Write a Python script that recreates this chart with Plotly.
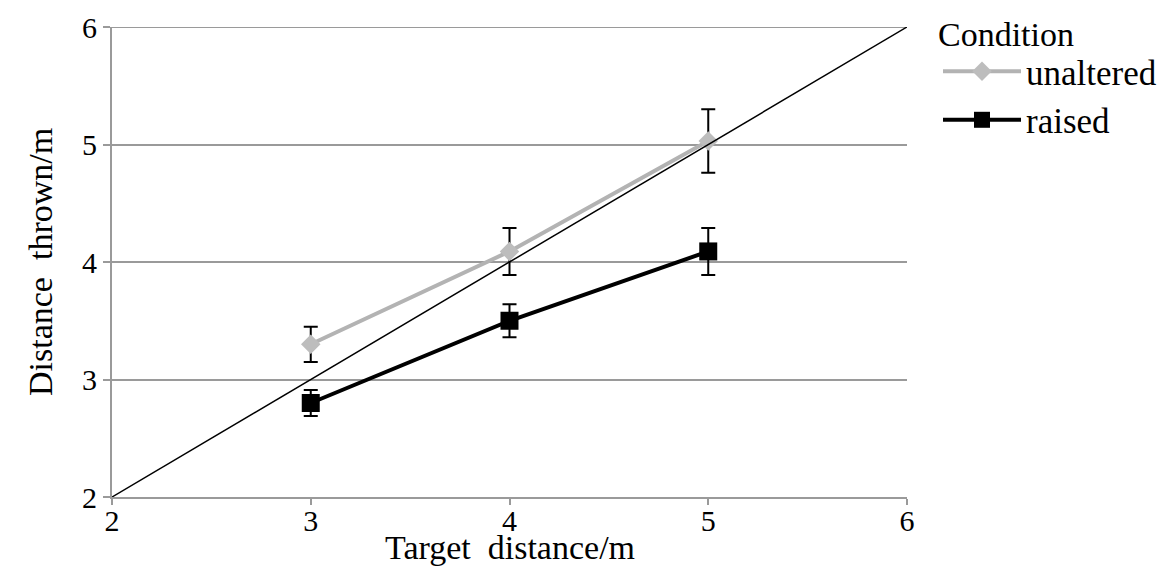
import plotly.graph_objects as go

# target distances (m)
targets = [3, 4, 5]

# mean distance thrown (m) and error bar half-widths
unaltered = [3.30, 4.09, 5.03]
unaltered_err = [0.15, 0.20, 0.27]
raised = [2.80, 3.50, 4.09]
raised_err = [0.11, 0.14, 0.20]

# y = x reference line end points
ref_line = [2, 6]
axis_ticks = [2, 3, 4, 5, 6]

serif = "Liberation Serif"
grey = "#9a9a9a"

fig = go.Figure()

fig.add_trace(go.Scatter(
    x=targets, y=unaltered, name="unaltered", mode="lines+markers",
    line=dict(color="#b3b3b3", width=4),
    marker=dict(symbol="diamond", size=15, color="#bdbdbd"),
    error_y=dict(type="data", array=unaltered_err, color="black", thickness=2, width=7),
))
fig.add_trace(go.Scatter(
    x=targets, y=raised, name="raised", mode="lines+markers",
    line=dict(color="black", width=4),
    marker=dict(symbol="square", size=18, color="black"),
    error_y=dict(type="data", array=raised_err, color="black", thickness=2, width=7),
))
fig.add_trace(go.Scatter(
    x=ref_line, y=ref_line, mode="lines", showlegend=False,
    line=dict(color="black", width=1.5), hoverinfo="skip",
))

# top grid line (plotly drops the one on the range edge)
fig.add_shape(type="line", xref="paper", x0=0, x1=1, yref="y",
              y0=max(axis_ticks), y1=max(axis_ticks),
              line=dict(color=grey, width=2), layer="below")

# axis titles and legend heading as annotations so they sit where the original has them
fig.add_annotation(text="Target  distance/m", xref="paper", yref="paper",
                   x=0.5, y=0, yshift=-50, yanchor="middle", showarrow=False,
                   font=dict(size=34))
fig.add_annotation(text="Distance  thrown/m", xref="paper", yref="paper",
                   x=0, y=0.5, xshift=-72, xanchor="center", textangle=-90,
                   showarrow=False, font=dict(size=34))
fig.add_annotation(text="Condition", xref="paper", yref="paper",
                   x=1.036, y=0.983, xanchor="left", yanchor="middle",
                   showarrow=False, font=dict(size=34))

# page has an 8px body margin, so the margins are shifted by that amount
fig.update_layout(
    width=1170, height=578,
    margin=dict(l=104, r=271, t=19, b=89),
    plot_bgcolor="white", paper_bgcolor="white",
    font=dict(family=serif, size=33, color="black"),
    showlegend=True,
    legend=dict(
        x=1.039, y=0.968, xanchor="left", yanchor="top",
        font=dict(size=35), itemwidth=78,
        bgcolor="rgba(0,0,0,0)",
    ),
    xaxis=dict(
        range=[2, 6], tickvals=axis_ticks, showgrid=False, automargin=False,
        showline=True, linecolor=grey, linewidth=2,
        ticks="outside", ticklen=6, tickcolor=grey, tickwidth=2,
        tickfont=dict(size=30), zeroline=False, ticklabelstandoff=-10,
    ),
    yaxis=dict(
        range=[2, 6], tickvals=axis_ticks, showgrid=True, automargin=False,
        gridcolor=grey, gridwidth=2,
        showline=True, linecolor=grey, linewidth=2,
        ticks="outside", ticklen=7, tickcolor=grey, tickwidth=2,
        tickfont=dict(size=30), zeroline=False,
    ),
)

fig.write_html("out.html")
